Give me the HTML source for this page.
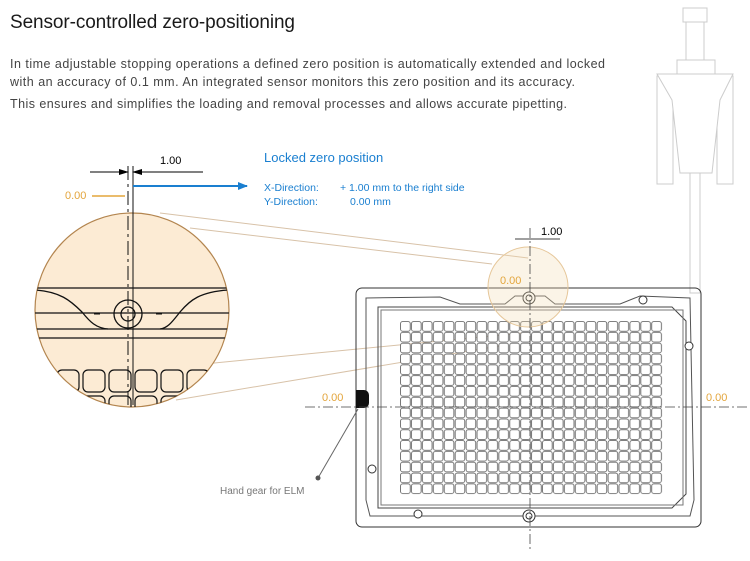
<!DOCTYPE html>
<html><head><meta charset="utf-8"><style>
html,body{margin:0;padding:0;background:#fff;width:750px;height:561px;overflow:hidden}
svg{display:block}
text{font-family:"Liberation Sans",sans-serif}
</style></head><body>
<svg width="750" height="561" viewBox="0 0 750 561" xmlns="http://www.w3.org/2000/svg">
<defs>
<pattern id="w" patternUnits="userSpaceOnUse" x="400" y="321" width="10.92" height="10.82">
<rect x="0.6" y="0.6" width="9.6" height="9.6" rx="2" fill="#fff" stroke="#555" stroke-width="0.8"/>
</pattern>
<marker id="ab" markerWidth="10" markerHeight="8" refX="9" refY="4" orient="auto" markerUnits="userSpaceOnUse"><path d="M0,0L10,4L0,8z" fill="#1a7fd0"/></marker>
<marker id="ak" markerWidth="10" markerHeight="6" refX="9" refY="3" orient="auto" markerUnits="userSpaceOnUse"><path d="M0,0L10,3L0,6z" fill="#000"/></marker>
<clipPath id="cc"><circle cx="132" cy="310" r="97"/></clipPath>
</defs>

<text x="10" y="28" font-size="19" fill="#1a1a1a" textLength="285">Sensor-controlled zero-positioning</text>
<text x="10" y="68" font-size="12.5" fill="#444" textLength="595">In time adjustable stopping operations a defined zero position is automatically extended and locked</text>
<text x="10" y="86" font-size="12.5" fill="#444" textLength="565">with an accuracy of 0.1 mm. An integrated sensor monitors this zero position and its accuracy.</text>
<text x="10" y="108" font-size="12.5" fill="#444" textLength="557">This ensures and simplifies the loading and removal processes and allows accurate pipetting.</text>

<g fill="#fff" stroke="#ccc" stroke-width="1">
<rect x="690" y="173" width="10" height="120"/>
<rect x="657" y="76" width="16" height="108"/>
<rect x="717" y="76" width="16" height="108"/>
<rect x="683" y="8" width="24" height="14"/>
<rect x="686" y="22" width="18" height="40"/>
<rect x="677" y="60" width="38" height="14"/>
<path d="M657,74L733,74L720,100L712,173L680,173L672,100Z"/>
</g>

<g stroke="#d8c2a8" stroke-width="1" fill="none">
<line x1="160" y1="213" x2="528" y2="258"/>
<line x1="190" y1="228" x2="492" y2="264"/>
<line x1="194" y1="365" x2="522" y2="333"/>
<line x1="176" y1="400" x2="505" y2="345"/>
</g>

<g fill="none" stroke="#333" stroke-width="1">
<rect x="356" y="288" width="345" height="239" rx="6"/>
<path d="M366,298 L440,297 L460,304 L505,304 L515,296 L545,296 L555,304 L620,304 L640,296 L690,298 L694,500 L690,516 L370,516 L366,500 Z" stroke="#555"/>
<path d="M378,307 L672,307 L686,321 L686,494 L672,508 L378,508 Z" stroke="#444"/>
<rect x="381" y="310" width="302" height="195" stroke="#777"/>
</g>
<rect x="400" y="321" width="262.1" height="173.1" fill="url(#w)"/>
<g fill="#fff" stroke="#333">
<circle cx="529" cy="298" r="6"/><circle cx="529" cy="298" r="3"/>
<circle cx="529" cy="516" r="6"/><circle cx="529" cy="516" r="3"/>
<circle cx="643" cy="300" r="4"/><circle cx="689" cy="346" r="4"/>
<circle cx="372" cy="469" r="4"/><circle cx="418" cy="514" r="4"/>
</g>
<circle cx="528" cy="287" r="40" fill="#f3d9b0" fill-opacity="0.3" stroke="#e6c79a" stroke-width="1"/>
<path d="M356,390 h8 a5,5 0 0 1 5,5 v8 a5,5 0 0 1 -5,5 h-8z" fill="#111"/>
<line x1="530" y1="228" x2="530" y2="552" stroke="#444" stroke-width="0.8" stroke-dasharray="10,3,2,3"/>
<line x1="305" y1="407" x2="750" y2="407" stroke="#444" stroke-width="0.8" stroke-dasharray="10,3,2,3"/>
<line x1="515" y1="239" x2="560" y2="239" stroke="#000" stroke-width="0.8"/>
<text x="541" y="235" font-size="11" fill="#000">1.00</text>
<text x="500" y="284" font-size="11" fill="#e3a53c">0.00</text>
<text x="322" y="401" font-size="11" fill="#e3a53c">0.00</text>
<text x="706" y="401" font-size="11" fill="#e3a53c">0.00</text>
<line x1="358" y1="409" x2="318" y2="478" stroke="#666" stroke-width="1"/>
<circle cx="318" cy="478" r="2.5" fill="#555"/>
<text x="220" y="494" font-size="10" fill="#777">Hand gear for ELM</text>

<circle cx="132" cy="310" r="97" fill="#fcebd4" stroke="#b3854f" stroke-width="1.2"/>
<g clip-path="url(#cc)" stroke="#111" stroke-width="1.3" fill="none">
<line x1="30" y1="288" x2="240" y2="288"/>
<line x1="30" y1="313" x2="240" y2="313"/>
<line x1="30" y1="329" x2="240" y2="329"/>
<line x1="30" y1="338" x2="240" y2="338"/>
<path d="M36,290 C60,292 70,300 82,312 C90,322 96,328 108,329"/>
<path d="M228,290 C200,292 190,300 180,312 C172,322 168,328 160,329"/>
<circle cx="128" cy="314" r="14"/><circle cx="128" cy="314" r="7"/>
<line x1="94" y1="314" x2="100" y2="314" stroke-width="1"/>
<line x1="156" y1="314" x2="162" y2="314" stroke-width="1"/>
<g stroke-width="1.2">
<rect x="57" y="370" width="22" height="22" rx="5"/><rect x="83" y="370" width="22" height="22" rx="5"/>
<rect x="109" y="370" width="22" height="22" rx="5"/><rect x="135" y="370" width="22" height="22" rx="5"/>
<rect x="161" y="370" width="22" height="22" rx="5"/><rect x="187" y="370" width="22" height="22" rx="5"/>
<rect x="57" y="396" width="22" height="22" rx="5"/><rect x="83" y="396" width="22" height="22" rx="5"/>
<rect x="109" y="396" width="22" height="22" rx="5"/><rect x="135" y="396" width="22" height="22" rx="5"/>
<rect x="161" y="396" width="22" height="22" rx="5"/>
</g>
</g>
<line x1="128" y1="166" x2="128" y2="405" stroke="#111" stroke-width="1" stroke-dasharray="14,4,3,4"/>
<line x1="133" y1="166" x2="133" y2="405" stroke="#111" stroke-width="1"/>
<line x1="90" y1="172" x2="128" y2="172" stroke="#000" stroke-width="1" marker-end="url(#ak)"/>
<line x1="203" y1="172" x2="133" y2="172" stroke="#000" stroke-width="1" marker-end="url(#ak)"/>
<text x="160" y="164" font-size="11" fill="#000">1.00</text>
<text x="65" y="199" font-size="11" fill="#e3a53c">0.00</text>
<line x1="92" y1="196" x2="125" y2="196" stroke="#e3a53c" stroke-width="1.5"/>
<line x1="133" y1="186" x2="247" y2="186" stroke="#1a7fd0" stroke-width="2" marker-end="url(#ab)"/>
<text x="264" y="162" font-size="13" fill="#1a7fd0">Locked zero position</text>
<text x="264" y="191" font-size="10.5" fill="#1a7fd0">X-Direction:</text>
<text x="340" y="191" font-size="10.5" fill="#1a7fd0">+ 1.00 mm to the right side</text>
<text x="264" y="205" font-size="10.5" fill="#1a7fd0">Y-Direction:</text>
<text x="350" y="205" font-size="10.5" fill="#1a7fd0">0.00 mm</text>
</svg>
</body></html>
